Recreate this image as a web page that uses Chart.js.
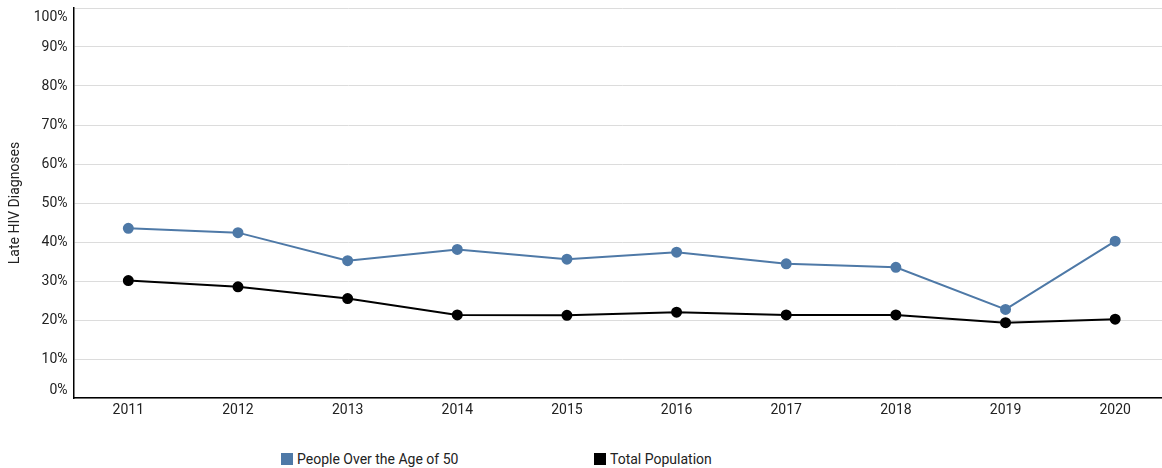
<!DOCTYPE html>
<html>
<head>
<meta charset="utf-8">
<script src="https://cdn.jsdelivr.net/npm/chart.js@4/dist/chart.umd.min.js"></script>
<style>
  html, body { margin: 0; padding: 0; background: #fff; overflow: hidden; }
  #wrap { position: relative; width: 1162px; height: 468px; overflow: hidden; font-family: Roboto, "Noto Sans", sans-serif; }
  #chart { position: absolute; left: 0; top: 0; }
  #legend { position: absolute; top: 450px; left: 0; width: 1162px; height: 18px; }
  .item { position: absolute; top: 0; display: flex; align-items: center; font-size: 14px; line-height: 18px; color: #222; white-space: nowrap; }
  .swatch { width: 12px; height: 12px; margin-right: 4px; }
</style>
</head>
<body>
<div id="wrap">
  <canvas id="chart" width="1170" height="430"></canvas>
  <div id="legend"></div>
</div>
<script>
// Share of HIV diagnoses made late, by year
const years = ['2011', '2012', '2013', '2014', '2015', '2016', '2017', '2018', '2019', '2020'];
const over50 = [43.5, 42.4, 35.2, 38.1, 35.6, 37.4, 34.4, 33.5, 22.7, 40.2];
const totalPop = [30.1, 28.5, 25.5, 21.3, 21.2, 22.0, 21.3, 21.3, 19.3, 20.2];
const seriesNames = ['People Over the Age of 50', 'Total Population'];
const seriesColors = ['#4e79a7', '#000000'];
const yTicks = [0, 10, 20, 30, 40, 50, 60, 70, 80, 90, 100];
const yTitle = 'Late HIV Diagnoses';

const FONT = 'Roboto, "Noto Sans", sans-serif';

// Y tick labels, kept inside the plot box at its top and bottom edges
const yLabels = {
  id: 'yLabels',
  afterDraw(chart) {
    const y = chart.scales.y;
    const { ctx, chartArea } = chart;
    ctx.save();
    ctx.font = '14px ' + FONT;
    ctx.fillStyle = '#222';
    ctx.textAlign = 'right';
    ctx.textBaseline = 'middle';
    y.ticks.forEach(t => {
      let py = y.getPixelForValue(t.value);
      py = Math.max(chartArea.top + 9, Math.min(chartArea.bottom - 8, py));
      ctx.fillText(t.value + '%', y.right - 6, py);
    });
    ctx.restore();
  }
};

const chart = new Chart(document.getElementById('chart'), {
  type: 'line',
  data: {
    labels: years,
    datasets: [over50, totalPop].map((vals, i) => ({
      label: seriesNames[i],
      data: vals,
      borderColor: seriesColors[i],
      backgroundColor: seriesColors[i],
      pointBackgroundColor: seriesColors[i],
      pointBorderColor: seriesColors[i],
      borderWidth: 2,
      pointRadius: 4.5,
      pointHoverRadius: 4.5,
      tension: 0,
      fill: false
    }))
  },
  options: {
    responsive: false,
    animation: false,
    devicePixelRatio: 1,
    layout: { autoPadding: false, padding: { top: 8, right: 0, left: 0, bottom: 0 } },
    plugins: {
      legend: { display: false },
      tooltip: { enabled: false }
    },
    scales: {
      x: {
        offset: true,
        grid: { display: false, drawTicks: false },
        border: { display: true, color: '#000', width: 1.5 },
        ticks: { color: '#222', font: { family: FONT, size: 14 }, padding: 4, maxRotation: 0 },
        afterFit(s) { s.height = 32; }
      },
      y: {
        min: 0,
        max: 100,
        afterBuildTicks(s) { s.ticks = yTicks.map(v => ({ value: v })); },
        grid: { color: '#dcdcdc', lineWidth: 1, drawTicks: false },
        border: { display: true, color: '#000', width: 1.5 },
        ticks: { display: false },
        title: {
          display: true,
          text: yTitle,
          color: '#222',
          font: { family: FONT, size: 14 },
          padding: { top: 7.5, bottom: 0 }
        },
        afterFit(s) { s.width = 73.5; }
      }
    }
  },
  plugins: [yLabels]
});

// Legend built from the chart's datasets
const legend = document.getElementById('legend');
const legendX = [281, 594];
chart.data.datasets.forEach((ds, i) => {
  const item = document.createElement('div');
  item.className = 'item';
  item.style.left = legendX[i] + 'px';
  const sw = document.createElement('span');
  sw.className = 'swatch';
  sw.style.background = ds.borderColor;
  const txt = document.createElement('span');
  txt.textContent = ds.label;
  item.appendChild(sw);
  item.appendChild(txt);
  legend.appendChild(item);
});
</script>
</body>
</html>
